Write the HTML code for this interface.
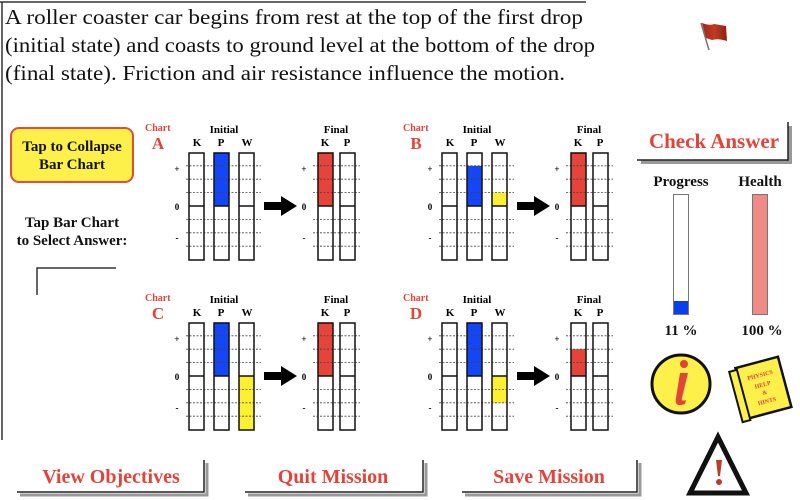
<!DOCTYPE html>
<html><head><meta charset="utf-8"><style>
html,body{margin:0;padding:0;background:#fff;width:800px;height:500px;overflow:hidden}
svg{display:block}
text{font-family:"Liberation Serif",serif}
</style></head><body>
<svg id="s" width="800" height="500" viewBox="0 0 800 500" xmlns="http://www.w3.org/2000/svg">
<defs><linearGradient id="fl" x1="0" x2="1"><stop offset="0" stop-color="#a02518"/><stop offset="0.5" stop-color="#c23a22"/><stop offset="1" stop-color="#8e2012"/></linearGradient></defs>
<line x1="0" y1="2" x2="586" y2="2" stroke="#333" stroke-width="1.5"/>
<line x1="2" y1="2" x2="2" y2="440" stroke="#333" stroke-width="1.5"/>
<g font-size="21" fill="#111">
<text x="5" y="24" textLength="578" lengthAdjust="spacingAndGlyphs">A roller coaster car begins from rest at the top of the first drop</text>
<text x="5" y="52" textLength="590" lengthAdjust="spacingAndGlyphs">(initial state) and coasts to ground level at the bottom of the drop</text>
<text x="5" y="80" textLength="560" lengthAdjust="spacingAndGlyphs">(final state).  Friction and air resistance influence the motion.</text>
</g>
<line x1="701" y1="23" x2="709" y2="50" stroke="#777" stroke-width="1.5"/>
<path d="M702,23 Q710,26 714,24 L726,26 L727,41 Q718,38 712,40 L706,38 Z" fill="url(#fl)"/>
<rect x="11" y="128" width="122" height="54" rx="8" fill="#fdf04a" stroke="#e34b3b" stroke-width="2"/>
<g font-weight="bold" font-size="15" text-anchor="middle" fill="#111">
<text x="72" y="151">Tap to Collapse</text>
<text x="72" y="169">Bar Chart</text>
<text x="72" y="227">Tap Bar Chart</text>
<text x="72" y="245">to Select Answer:</text>
</g>
<polyline points="116,268 37,268 37,295" fill="none" stroke="#333" stroke-width="1.5"/>
<g id="charts"></g>
<rect x="641" y="126" width="151" height="38" fill="#999"/>
<rect x="637" y="122" width="151" height="38" fill="#fff"/>
<polyline points="637,160 788,160 788,122" fill="none" stroke="#222" stroke-width="1.5"/>
<text x="714" y="148" text-anchor="middle" font-size="21" font-weight="bold" fill="#e2433a">Check Answer</text>
<g font-weight="bold" font-size="15" text-anchor="middle" fill="#111">
<text x="681" y="186">Progress</text>
<text x="760" y="186">Health</text>
<text x="681" y="335">11 %</text>
<text x="762" y="335">100 %</text>
</g>
<rect x="673.5" y="194.5" width="15" height="120" fill="#fff" stroke="#777"/>
<rect x="674" y="301" width="14" height="13" fill="#0a3ff0"/>
<rect x="752.5" y="194.5" width="15" height="120" fill="#ef8a86" stroke="#777"/>
<circle cx="681" cy="384" r="29" fill="#fdf04a" stroke="#111" stroke-width="3"/>
<circle cx="684" cy="364" r="4" fill="#e2433a"/>
<path d="M680,373 L688,373 L682,398 Q681,402 686,400 L685,404 Q674,408 676,398 Z" fill="#e2433a"/>
<g transform="rotate(-15 762 390)">
<rect x="742" y="362" width="44" height="52" fill="#fdf04a" stroke="#111" stroke-width="2.5"/>
<rect x="735" y="364" width="8" height="52" fill="#fdf04a" stroke="#111" stroke-width="2"/>
<g font-size="6" font-weight="bold" fill="#e2433a" text-anchor="middle">
<text x="764" y="377">PHYSICS</text><text x="764" y="387">HELP</text><text x="764" y="395">&amp;</text><text x="764" y="404">HINTS</text>
</g></g>
<path d="M718,437 L746,493 L690,493 Z" fill="#fff" stroke="#111" stroke-width="5" stroke-linejoin="miter"/>
<path d="M716,460 L722,460 L720,476 L718,476 Z" fill="#c0392b"/>
<circle cx="719" cy="482" r="3" fill="#c0392b"/>
<g id="btns"></g>
</svg>
<script>
var NS="http://www.w3.org/2000/svg";
function el(p,t,a,txt){var e=document.createElementNS(NS,t);for(var k in a)e.setAttribute(k,a[k]);if(txt)e.textContent=txt;p.appendChild(e);return e;}
var g=document.getElementById('charts');
var U=13.4;
var charts=[
 {L:'A',dx:0,dy:0,P:4,W:0,K:4},
 {L:'B',dx:253,dy:0,P:3,W:1,K:4},
 {L:'C',dx:0,dy:170,P:4,W:-4,K:4},
 {L:'D',dx:253,dy:170,P:4,W:-2,K:2}];
charts.forEach(function(c){
 var ox=c.dx, oy=c.dy, z=206+oy, top=153+oy, bot=260+oy;
 var lx=c.L=='A'||c.L=='C'?0:5;
 el(g,'text',{x:145+ox+lx,y:131+oy,'font-size':10,'font-weight':'bold',fill:'#e2433a'},'Chart');
 el(g,'text',{x:158+ox+lx,y:149+oy,'font-size':17,'font-weight':'bold',fill:'#e2433a','text-anchor':'middle'},c.L);
 el(g,'text',{x:224+ox,y:133+oy,'font-size':11,'font-weight':'bold','text-anchor':'middle'},'Initial');
 el(g,'text',{x:336+ox,y:133+oy,'font-size':11,'font-weight':'bold','text-anchor':'middle'},'Final');
 [['K',197],['P',221],['W',247],['K',325],['P',347]].forEach(function(l){
  el(g,'text',{x:l[1]+ox,y:146+oy,'font-size':11,'font-weight':'bold','text-anchor':'middle'},l[0]);});
 [[177,'+',172],[177,'0',210],[177,'-',241],[304,'+',172],[304,'0',210],[304,'-',241]].forEach(function(l){
  el(g,'text',{x:l[0]+ox,y:l[2]+oy,'font-size':9,'font-weight':'bold','text-anchor':'middle'},l[1]);});
 var bars=[[189,0,''],[214,c.P,'#1546f5'],[239,c.W,'#fdf030'],[318,c.K,'#e6443a'],[340,0,'']];
 bars.forEach(function(b){
  var x=b[0]+ox;
  el(g,'rect',{x:x,y:top,width:15,height:bot-top,fill:'#fff'});
  if(b[1]>0) el(g,'rect',{x:x,y:z-b[1]*U,width:15,height:b[1]*U,fill:b[2]});
  if(b[1]<0) el(g,'rect',{x:x,y:z,width:15,height:-b[1]*U,fill:b[2]});
 });
 [[186,261],[313,360]].forEach(function(r){
  [-3,-2,-1,1,2,3].forEach(function(i){
   var y=z+i*U;
   el(g,'line',{x1:r[0]+ox,x2:r[1]+ox,y1:y,y2:y,stroke:'#444','stroke-width':0.8,'stroke-dasharray':'2,1.5'});
  });});
 bars.forEach(function(b){
  var x=b[0]+ox;
  el(g,'rect',{x:x,y:top,width:15,height:bot-top,fill:'none',stroke:'#111','stroke-width':1.5});
  el(g,'line',{x1:x,x2:x+15,y1:z,y2:z,stroke:'#111','stroke-width':1.5});
 });
 el(g,'path',{d:'M'+(264+ox)+','+(z-4)+' L'+(281+ox)+','+(z-4)+' L'+(281+ox)+','+(z-10)+' L'+(297+ox)+','+z+' L'+(281+ox)+','+(z+10)+' L'+(281+ox)+','+(z+4)+' L'+(264+ox)+','+(z+4)+' Z',fill:'#000'});
});
var bg=document.getElementById('btns');
[['View Objectives',17,204,111],['Quit Mission',245,423,333],['Save Mission',462,637,549]].forEach(function(b){
 el(bg,'polyline',{points:(b[1]+3)+','+495+' '+(b[2]+3)+','+495+' '+(b[2]+3)+','+463,fill:'none',stroke:'#999','stroke-width':3});
 el(bg,'polyline',{points:b[1]+','+492+' '+b[2]+','+492+' '+b[2]+','+460,fill:'none',stroke:'#222','stroke-width':1.5});
 el(bg,'text',{x:b[3],y:483,'font-size':20,'font-weight':'bold',fill:'#e2433a','text-anchor':'middle'},b[0]);
});
</script>
</body></html>
